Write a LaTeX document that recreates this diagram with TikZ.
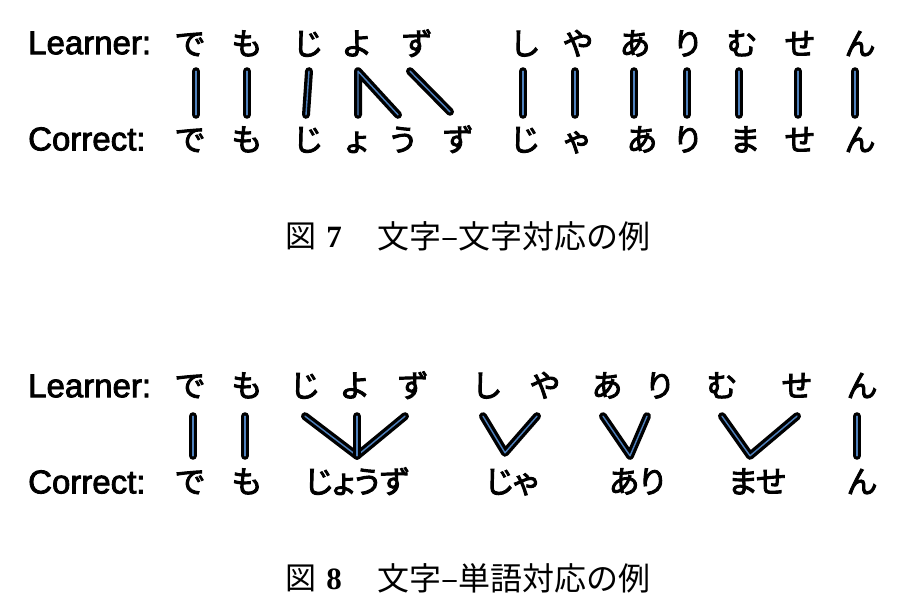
\documentclass[tikz,border=0pt]{standalone}
\usepackage{fontspec}
\setmainfont{Liberation Sans}
\newfontfamily\labfont{Liberation Sans}[FakeBold=2.5]
\newfontfamily\cjk{Noto Sans CJK JP}[FakeBold=3]
\newfontfamily\cjkp{Noto Sans CJK JP}[FakeBold=3,RawFeature=+palt]
\newfontfamily\capcjk{Noto Sans CJK JP}
\newfontfamily\capnum{Liberation Serif}
\definecolor{lblue}{HTML}{4F81BD}
\begin{document}
\begin{tikzpicture}[x=1pt,y=-1pt,
  lab/.style={anchor=west,inner sep=0pt,font=\labfont\fontsize{33}{36}\selectfont},
  kana/.style={inner sep=0pt,font=\cjk\fontsize{31}{33}\selectfont,text height=24pt,text depth=0pt},
  lrowa/.style={kana,minimum height=56pt},
  crowa/.style={kana,minimum height=48pt},
  lrowb/.style={kana,minimum height=62pt},
  crowb/.style={kana,minimum height=50pt},
  word/.style={crowb,font=\cjkp\fontsize{31}{33}\selectfont},
  capk/.style={inner sep=0pt,font=\capcjk\fontsize{31}{33}\selectfont},
  capt/.style={inner sep=0pt,anchor=west,font=\capcjk\fontsize{32}{34}\selectfont},
  capn/.style={inner sep=0pt,font=\capnum\bfseries\fontsize{31}{33}\selectfont},
  link/.style={line width=8pt,line cap=round,line join=round,draw=black,
    postaction={draw=lblue,line width=1.4pt}}]
\fill[white] (0,0) rectangle (906,616);
\useasboundingbox (0,0) rectangle (906,616);
% ---------- Figure 7 ----------
\node[lab] (la) at (28,43) {Learner:};
\node[lab] (ca) at (28,139) {Correct:};
\foreach \i/\x/\t in {1/190/で,2/247/も,3/308/じ,4/357/よ,5/417/ず,6/525/し,7/578/や,8/635/あ,9/688/り,10/742/む,11/800/せ,12/860/ん}
  \node[lrowa] (a\i) at (\x,43) {\t};
\foreach \i/\x/\t in {1/190/で,2/247/も,3/308/じ,4/357/ょ,5/403/う,6/458/ず,7/525/じ,8/577/ゃ,9/642/あ,10/688/り,11/745/ま,12/800/せ,13/860/ん}
  \node[crowa] (b\i) at (\x,139) {\t};
\draw[link] ([xshift=6pt]a1.south) -- ([xshift=6pt]b1.north);
\draw[link] (a2.south) -- (b2.north);
\draw[link] ([xshift=1pt]a3.south) -- ([xshift=-2pt]b3.north);
\draw[link] ([xshift=1pt]b4.north) -- ([xshift=1pt]a4.south) -- ([xshift=-5pt]b5.north);
\draw[link] ([xshift=-7pt]a5.south) -- ([xshift=-8pt,yshift=3pt]b6.north);
\draw[link] ([xshift=-2pt]a6.south) -- ([xshift=-2pt]b7.north);
\draw[link] ([xshift=-3pt]a7.south) -- ([xshift=-2pt]b8.north);
\draw[link] ([xshift=-1pt]a8.south) -- ([xshift=-8pt]b9.north);
\draw[link] ([xshift=-1pt]a9.south) -- ([xshift=-1pt]b10.north);
\draw[link] ([xshift=-3pt]a10.south) -- ([xshift=-6pt]b11.north);
\draw[link] ([xshift=-2pt]a11.south) -- ([xshift=-2pt]b12.north);
\draw[link] ([xshift=-5pt]a12.south) -- ([xshift=-5pt]b13.north);
\node[capk] (f7a) at (301,236) {図};
\node[capn] (f7n) at (334,237) {7};
\node[capt] (f7t) at (377,236) {文字–文字対応の例};
% ---------- Figure 8 ----------
\node[lab] (lb) at (28,386) {Learner:};
\node[lab] (cb) at (28,482) {Correct:};
\foreach \i/\x/\t in {1/190/で,2/247/も,3/305/じ,4/355/よ,5/413/ず,6/487/し,7/545/や,8/607/あ,9/660/り,10/722/む,11/797/せ,12/862/ん}
  \node[lrowb] (d\i) at (\x,385) {\t};
\node[crowb] (e1) at (190,481) {で};
\node[crowb] (e2) at (247,481) {も};
\node[word] (e3) at (357,481) {じょうず};
\node[word] (e4) at (512,481) {じゃ};
\node[word] (e5) at (637,481) {あり};
\node[word] (e6) at (757,481) {ませ};
\node[crowb] (e7) at (862,481) {ん};
\draw[link] ([xshift=3pt]d1.south) -- ([xshift=3pt]e1.north);
\draw[link] ([xshift=-2pt]d2.south) -- ([xshift=-2pt]e2.north);
\draw[link] (d3.south) -- ([xshift=0pt]e3.north) -- ([xshift=-8pt]d5.south);
\draw[link] ([xshift=2pt]d4.south) -- (e3.north);
\draw[link] ([xshift=-4pt]d6.south) -- ([xshift=-7pt,yshift=3pt]e4.north) -- ([xshift=-8pt]d7.south);
\draw[link] ([xshift=-4pt]d8.south) -- ([xshift=-7pt]e5.north) -- ([xshift=-13pt]d9.south);
\draw[link] (d10.south) -- ([xshift=-7pt]e6.north) -- (d11.south);
\draw[link] ([xshift=-5pt]d12.south) -- ([xshift=-5pt]e7.north);
\node[capk] (f8a) at (301,578) {図};
\node[capn] (f8n) at (334,579) {8};
\node[capt] (f8t) at (377,578) {文字–単語対応の例};
\end{tikzpicture}
\end{document}
